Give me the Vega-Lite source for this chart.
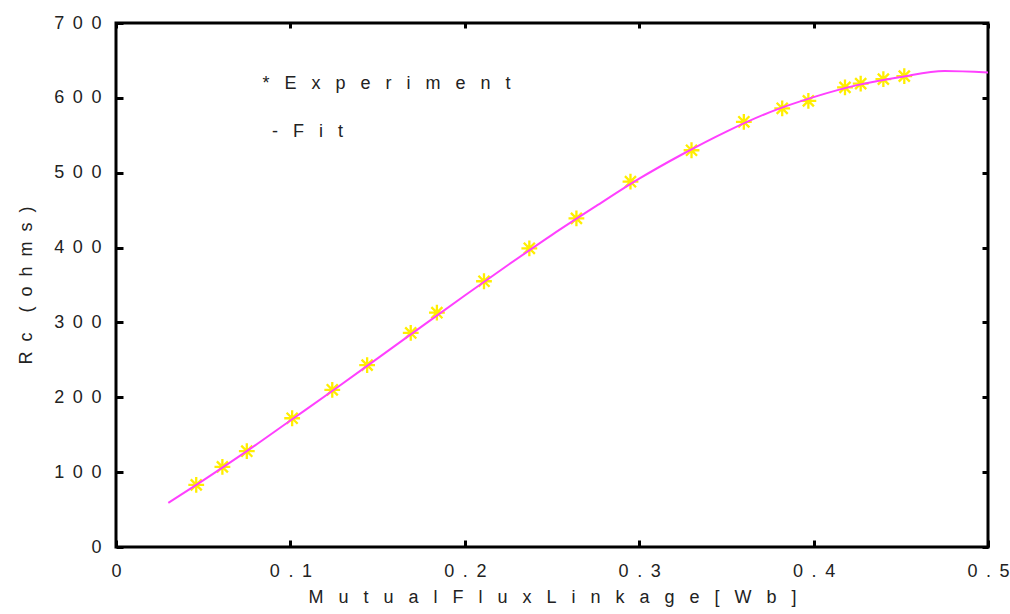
{
  "$schema": "https://vega.github.io/schema/vega-lite/v6.json",
  "width": 872,
  "height": 524,
  "autosize": {"type": "none"},
  "padding": {"left": 116, "top": 23, "right": 22, "bottom": 67},
  "background": "white",
  "config": {
    "view": {"stroke": "black", "strokeWidth": 3},
    "axis": {
      "grid": false,
      "domain": false,
      "tickColor": "black",
      "tickWidth": 3,
      "tickSize": -7,
      "labelFont": "Liberation Sans",
      "labelFontSize": 18,
      "labelColor": "#222222",
      "titleFont": "Liberation Sans",
      "titleFontSize": 18,
      "titleFontWeight": "normal",
      "titleColor": "#222222",
      "labelOverlap": false,
      "labelFlush": false,
      "labelBound": false
    },
    "text": {"font": "Liberation Sans", "fontSize": 18, "color": "#222222"}
  },
  "resolve": {"scale": {"x": "independent", "y": "independent"}},
  "layer": [
    {
      "data": {
        "name": "experiment",
        "values": [
          {"flux": 0.046, "rc": 83},
          {"flux": 0.061, "rc": 107},
          {"flux": 0.075, "rc": 128},
          {"flux": 0.101, "rc": 172},
          {"flux": 0.124, "rc": 210},
          {"flux": 0.144, "rc": 243},
          {"flux": 0.169, "rc": 286},
          {"flux": 0.184, "rc": 313},
          {"flux": 0.211, "rc": 355},
          {"flux": 0.237, "rc": 399},
          {"flux": 0.264, "rc": 439},
          {"flux": 0.295, "rc": 488},
          {"flux": 0.330, "rc": 530},
          {"flux": 0.360, "rc": 568},
          {"flux": 0.382, "rc": 586},
          {"flux": 0.397, "rc": 596},
          {"flux": 0.418, "rc": 614},
          {"flux": 0.427, "rc": 619},
          {"flux": 0.440, "rc": 625},
          {"flux": 0.452, "rc": 629}
        ]
      },
      "mark": {
        "type": "point",
        "shape": "M-1,0L1,0M0,-1L0,1M-0.7,-0.7L0.7,0.7M-0.7,0.7L0.7,-0.7",
        "filled": false,
        "stroke": "#ffee00",
        "strokeWidth": 2.3,
        "size": 250,
        "opacity": 1
      },
      "encoding": {
        "x": {
          "field": "flux",
          "type": "quantitative",
          "scale": {"domain": [0, 0.5], "nice": false, "zero": false},
          "axis": {
            "orient": "bottom",
            "values": [0, 0.1, 0.2, 0.3, 0.4, 0.5],
            "labelExpr": "join(split(datum.value == 0 ? '0' : format(datum.value, '.1f'), ''), '\u00a0\u2009')",
            "labelPadding": 22,
            "title": "M\u00a0\u00a0\u00a0u\u00a0\u00a0\u00a0t\u00a0\u00a0\u00a0u\u00a0\u00a0\u00a0a\u00a0\u00a0\u00a0l\u00a0\u00a0\u00a0F\u00a0\u00a0\u00a0l\u00a0\u00a0\u00a0u\u00a0\u00a0\u00a0x\u00a0\u00a0\u00a0L\u00a0\u00a0\u00a0i\u00a0\u00a0\u00a0n\u00a0\u00a0\u00a0k\u00a0\u00a0\u00a0a\u00a0\u00a0\u00a0g\u00a0\u00a0\u00a0e\u00a0\u00a0\u00a0[\u00a0\u00a0\u00a0W\u00a0\u00a0\u00a0b\u00a0\u00a0\u00a0]",
            "titlePadding": 8
          }
        },
        "y": {
          "field": "rc",
          "type": "quantitative",
          "scale": {"domain": [0, 700], "nice": false, "zero": false},
          "axis": {
            "orient": "left",
            "values": [0, 100, 200, 300, 400, 500, 600, 700],
            "labelExpr": "join(split(format(datum.value, 'd'), ''), '\u00a0\u2009')",
            "labelPadding": 22,
            "title": "R\u00a0\u00a0c\u00a0\u00a0\u00a0\u00a0(\u00a0\u00a0o\u00a0\u00a0h\u00a0\u00a0m\u00a0\u00a0s\u00a0\u00a0)",
            "titlePadding": 18
          }
        }
      }
    },
    {
      "data": {
        "name": "fit",
        "values": [
          {"flux": 0.030, "rc": 59},
          {"flux": 0.050, "rc": 89},
          {"flux": 0.075, "rc": 128},
          {"flux": 0.100, "rc": 169},
          {"flux": 0.125, "rc": 210},
          {"flux": 0.150, "rc": 252},
          {"flux": 0.175, "rc": 294},
          {"flux": 0.200, "rc": 336},
          {"flux": 0.225, "rc": 377},
          {"flux": 0.250, "rc": 417},
          {"flux": 0.275, "rc": 455},
          {"flux": 0.300, "rc": 492},
          {"flux": 0.325, "rc": 525},
          {"flux": 0.350, "rc": 555},
          {"flux": 0.375, "rc": 581},
          {"flux": 0.400, "rc": 601},
          {"flux": 0.425, "rc": 617},
          {"flux": 0.450, "rc": 628},
          {"flux": 0.475, "rc": 636},
          {"flux": 0.500, "rc": 634}
        ]
      },
      "mark": {"type": "line", "color": "#ff40ff", "strokeWidth": 2, "interpolate": "monotone"},
      "encoding": {
        "x": {
          "field": "flux",
          "type": "quantitative",
          "scale": {"domain": [0, 0.5], "nice": false, "zero": false},
          "axis": {"orient": "top", "values": [0, 0.1, 0.2, 0.3, 0.4, 0.5], "labels": false, "title": null, "tickSize": -5}
        },
        "y": {
          "field": "rc",
          "type": "quantitative",
          "scale": {"domain": [0, 700], "nice": false, "zero": false},
          "axis": {"orient": "right", "values": [0, 100, 200, 300, 400, 500, 600, 700], "labels": false, "title": null, "tickSize": -6}
        }
      }
    },
    {
      "data": {"values": [{"label": "*\u00a0\u00a0\u00a0E\u00a0\u00a0\u00a0x\u00a0\u00a0\u00a0p\u00a0\u00a0\u00a0e\u00a0\u00a0\u00a0r\u00a0\u00a0\u00a0i\u00a0\u00a0\u00a0m\u00a0\u00a0\u00a0e\u00a0\u00a0\u00a0n\u00a0\u00a0\u00a0t"}]},
      "mark": {"type": "text", "align": "left", "baseline": "middle"},
      "encoding": {
        "text": {"field": "label"},
        "x": {"datum": 0.084, "type": "quantitative", "scale": {"domain": [0, 0.5], "nice": false, "zero": false}, "axis": null},
        "y": {"datum": 618, "type": "quantitative", "scale": {"domain": [0, 700], "nice": false, "zero": false}, "axis": null}
      }
    },
    {
      "data": {"values": [{"label": "-\u00a0\u00a0\u00a0F\u00a0\u00a0\u00a0i\u00a0\u00a0\u00a0t"}]},
      "mark": {"type": "text", "align": "left", "baseline": "middle"},
      "encoding": {
        "text": {"field": "label"},
        "x": {"datum": 0.0895, "type": "quantitative", "scale": {"domain": [0, 0.5], "nice": false, "zero": false}, "axis": null},
        "y": {"datum": 555, "type": "quantitative", "scale": {"domain": [0, 700], "nice": false, "zero": false}, "axis": null}
      }
    }
  ]
}
